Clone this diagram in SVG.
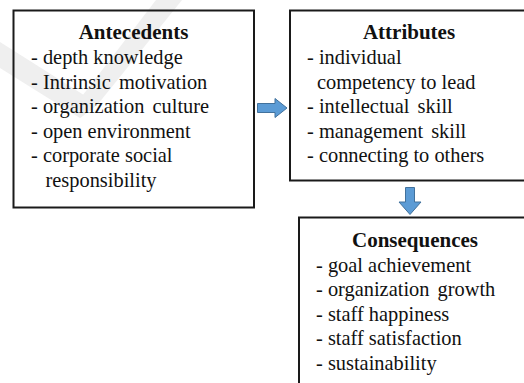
<svg xmlns="http://www.w3.org/2000/svg" width="524" height="383" viewBox="0 0 524 383">
<style>
.box{fill:none;stroke:#1a1a1a;stroke-width:2}
.t{font-size:20.4px;fill:#111}
.h{font-size:21px;font-weight:bold;fill:#111;text-anchor:middle}
.arr{fill:#5B9BD5;stroke:#41719C;stroke-width:1}
.wm{fill:#efefef}
</style>
<rect width="524" height="383" fill="#fff"/>
<g id="watermark">
<polygon class="wm" points="0,42 0,68 80,118 98,104"/>
<polygon class="wm" points="156,0 182,0 98,104 80,118 76,104"/>
</g>
<g font-family="Liberation Serif, Times New Roman, serif">
<g id="antecedents">
<rect class="box" x="13.5" y="10.5" width="240.5" height="197"/>
<text class="h" x="133.5" y="39">Antecedents</text>
<text class="t" x="31" y="64">- depth knowledge</text>
<text class="t" x="31" y="88.5">- Intrinsic<tspan dx="3"> motivation</tspan></text>
<text class="t" x="31" y="113">- organization<tspan dx="3"> culture</tspan></text>
<text class="t" x="31" y="137.5">- open environment</text>
<text class="t" x="31" y="162">- corporate social</text>
<text class="t" x="45.5" y="186.5">responsibility</text>
</g>
<g id="attributes">
<rect class="box" x="290" y="10.5" width="250" height="170"/>
<text class="h" x="409" y="39">Attributes</text>
<text class="t" x="307" y="64">- individual</text>
<text class="t" x="317" y="88.5">competency to lead</text>
<text class="t" x="307" y="113">- intellectual<tspan dx="3"> skill</tspan></text>
<text class="t" x="307" y="137.5">- management<tspan dx="3"> skill</tspan></text>
<text class="t" x="307" y="162">- connecting to others</text>
</g>
<g id="consequences">
<rect class="box" x="299" y="217.5" width="250" height="190"/>
<text class="h" x="415" y="247">Consequences</text>
<text class="t" x="316" y="271.5">- goal achievement</text>
<text class="t" x="316" y="296">- organization<tspan dx="3"> growth</tspan></text>
<text class="t" x="316" y="320.5">- staff happiness</text>
<text class="t" x="316" y="345">- staff satisfaction</text>
<text class="t" x="316" y="369.5">- sustainability</text>
</g>
</g>
<g id="connectors">
<polygon class="arr" points="257.5,103.5 275,103.5 275,98.5 287,108 275,117.5 275,112.5 257.5,112.5"/>
<polygon class="arr" points="405.5,187.5 414.5,187.5 414.5,202 421,202 410,214.5 399,202 405.5,202"/>
</g>
</svg>
